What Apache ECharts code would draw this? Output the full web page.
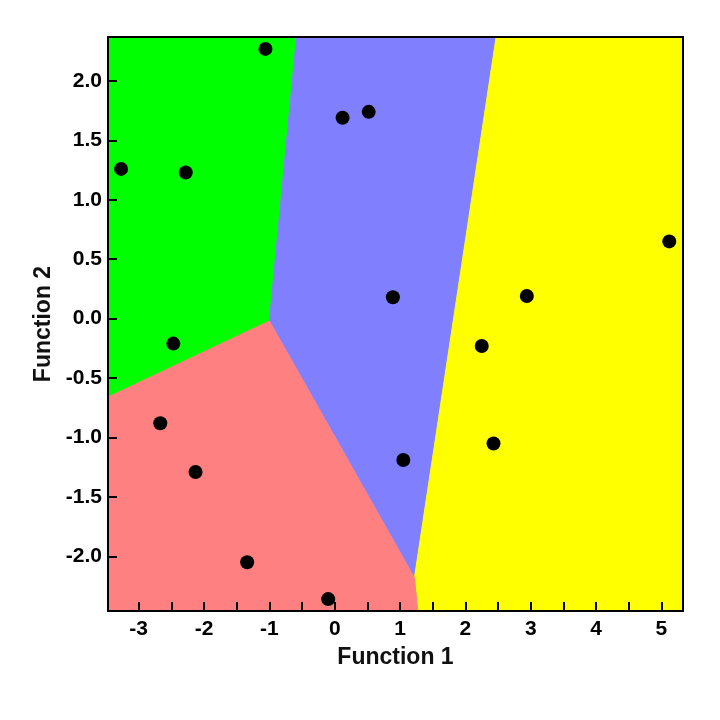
<!DOCTYPE html>
<html>
<head>
<meta charset="utf-8">
<script src="https://cdn.jsdelivr.net/npm/echarts@6/dist/echarts.min.js"></script>
<style>html,body{margin:0;padding:0;background:#fff;}#chart{width:720px;height:720px;}</style>
</head>
<body>
<div id="chart"></div>
<script>
// Axis extents
var xMin = -3.47, xMax = 5.33, yMin = -2.46, yMax = 2.37;
var xTickValues = [-3, -2.5, -2, -1.5, -1, -0.5, 0, 0.5, 1, 1.5, 2, 2.5, 3, 3.5, 4, 4.5, 5];
var xLabelValues = [-3, -2, -1, 0, 1, 2, 3, 4, 5];
var yTickValues = [-2, -1.5, -1, -0.5, 0, 0.5, 1, 1.5, 2];

// Territory regions (polygon vertices in Function 1 / Function 2 units)
var greenX = [xMin, -0.585, -1.0, xMin];
var greenY = [yMax, yMax, -0.02, -0.66];
var blueX = [-0.585, 2.47, 1.22, -1.0];
var blueY = [yMax, yMax, -2.18, -0.02];
var yellowX = [2.47, xMax, xMax, 1.27, 1.22];
var yellowY = [yMax, yMax, yMin, yMin, -2.18];
var redX = [xMin, -1.0, 1.22, 1.27, xMin];
var redY = [-0.66, -0.02, -2.18, yMin, yMin];

// Cases (Function 1, Function 2)
var caseF1 = [-1.06, -3.27, -2.28, -2.47, 0.12, 0.52, 0.89, 2.25, -2.67, -2.13, -1.34, -0.10, 1.05, 2.43, 2.94, 5.12];
var caseF2 = [2.27, 1.26, 1.23, -0.21, 1.69, 1.74, 0.18, -0.23, -0.88, -1.29, -2.05, -2.36, -1.19, -1.05, 0.19, 0.65];

function regionSeries(xs, ys, color) {
  return {
    type: 'custom',
    coordinateSystem: 'cartesian2d',
    silent: true,
    clip: true,
    z: 1,
    encode: {x: 0, y: 1},
    data: xs.map(function (x, i) { return [x, ys[i]]; }),
    renderItem: function (params, api) {
      if (params.dataIndex !== 0) return null;
      var pts = xs.map(function (x, i) { return api.coord([x, ys[i]]); });
      return {
        type: 'polygon',
        shape: {points: pts},
        style: {fill: color, stroke: color, lineWidth: 1}
      };
    }
  };
}

var chart = echarts.init(document.getElementById('chart'), null, {renderer: 'canvas'});
var labelFont = {fontFamily: 'Liberation Sans, Arial, sans-serif', fontWeight: 'bold', fontSize: 21, color: '#000'};
var nameFont = {fontFamily: 'Liberation Sans, Arial, sans-serif', fontWeight: 'bold', fontSize: 23, color: '#111'};

chart.setOption({
  backgroundColor: '#fff',
  animation: false,
  grid: {left: 108, right: 37, top: 37, bottom: 109, show: true, borderColor: '#000', borderWidth: 2, backgroundColor: 'transparent', z: 10},
  xAxis: {
    type: 'value', min: xMin, max: xMax,
    name: 'Function 1', nameLocation: 'middle', nameGap: 35,
    nameTextStyle: nameFont,
    splitLine: {show: false},
    axisLine: {show: true, onZero: false, lineStyle: {color: '#000', width: 2}},
    axisTick: {show: true, inside: true, length: 9, customValues: xTickValues, lineStyle: {color: '#000', width: 2}},
    axisLabel: Object.assign({margin: 8, customValues: xLabelValues, formatter: function (v) { return String(v); }}, labelFont),
    z: 10
  },
  yAxis: {
    type: 'value', min: yMin, max: yMax,
    name: 'Function 2', nameLocation: 'middle', nameGap: 47, nameRotate: 90,
    nameTextStyle: nameFont,
    splitLine: {show: false},
    axisLine: {show: true, onZero: false, lineStyle: {color: '#000', width: 2}},
    axisTick: {show: true, inside: true, length: 9, customValues: yTickValues, lineStyle: {color: '#000', width: 2}},
    axisLabel: Object.assign({margin: 6, customValues: yTickValues, formatter: function (v) { return v.toFixed(1); }}, labelFont),
    z: 10
  },
  series: [
    regionSeries(greenX, greenY, '#00ff00'),
    regionSeries(blueX, blueY, '#8080ff'),
    regionSeries(yellowX, yellowY, '#ffff00'),
    regionSeries(redX, redY, '#ff8080'),
    {
      type: 'scatter', z: 5, silent: true,
      symbol: 'circle', symbolSize: 14,
      itemStyle: {color: '#000', opacity: 1},
      data: caseF1.map(function (x, i) { return [x, caseF2[i]]; })
    }
  ]
});
</script>
</body>
</html>
